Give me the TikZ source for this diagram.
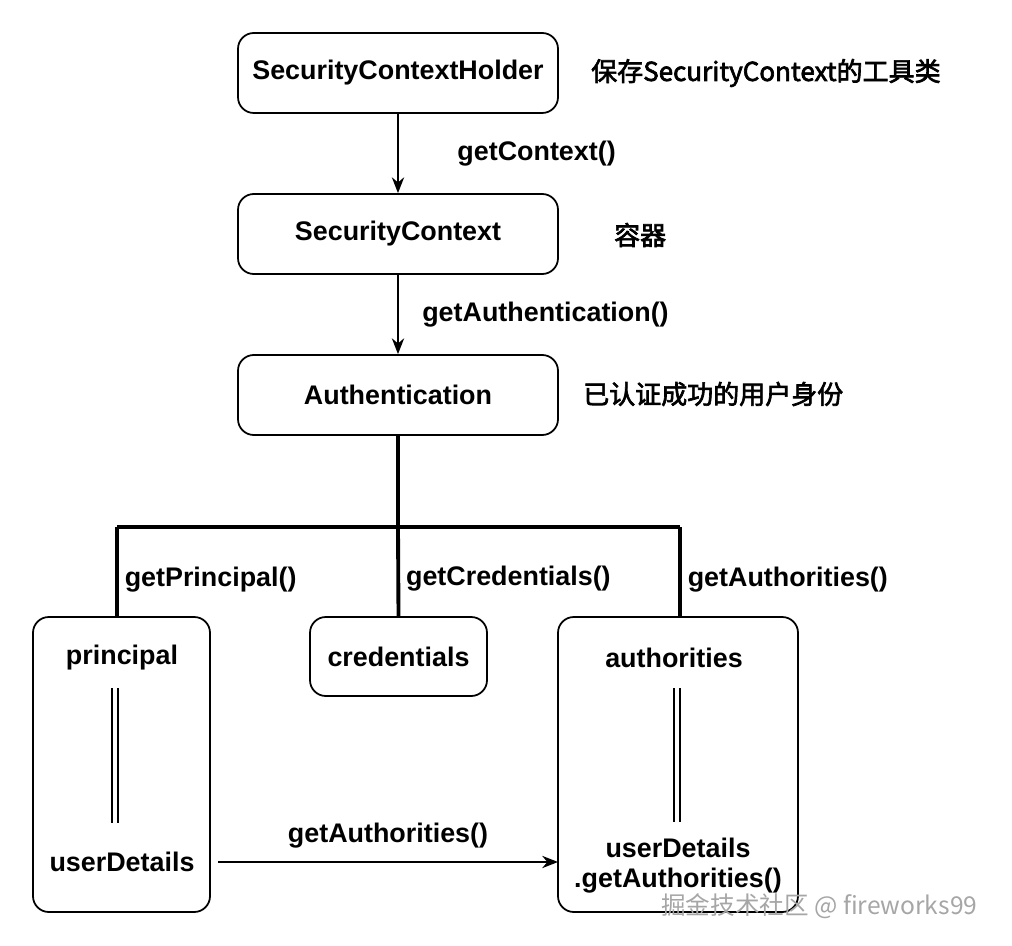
\documentclass[tikz,border=0pt]{standalone}
\usepackage{fontspec}
\usetikzlibrary{arrows.meta}
\setmainfont{Liberation Sans}
\newfontfamily\cjk{Noto Sans CJK SC}[AutoFakeBold=2.5]
\begin{document}
\begin{tikzpicture}[x=0.02cm,y=-0.02cm,
  box/.style={draw,line width=1pt,rounded corners=9pt,inner sep=0},
  t/.style={font=\fontsize{15.3}{18}\selectfont\bfseries},
  c/.style={font=\fontsize{14.8}{18}\selectfont\cjk\bfseries},
  thick2/.style={line width=2.2pt},
  >={Stealth[length=9pt,width=7pt]}]
\useasboundingbox (0,0) rectangle (1012,946);
\node[box,minimum width=320*0.02cm,minimum height=80*0.02cm,t] (sch) at (398,73) {SecurityContextHolder};
\node[box,minimum width=320*0.02cm,minimum height=80*0.02cm,t] (sc) at (398,234) {SecurityContext};
\node[box,minimum width=320*0.02cm,minimum height=80*0.02cm,t] (au) at (398,395) {Authentication};
\node[box,minimum width=177*0.02cm,minimum height=295*0.02cm] (pb) at (121.5,764.5) {};
\node[box,minimum width=177*0.02cm,minimum height=79*0.02cm,t] (cb) at (398.5,656.5) {credentials};
\node[box,minimum width=240*0.02cm,minimum height=295*0.02cm] (ab) at (678,764.5) {};
\node[t] (pr) at (122,658) {principal};
\node[t] (ud) at (122,862) {userDetails};
\node[t] (aut) at (674,658) {authorities};
\node[t] (ud2) at (678,848) {userDetails};
\node[t] (ga2) at (678,881) {.getAuthorities()};
\node[c,anchor=west] (n1) at (585,73) {保存SecurityContext的工具类};
\node[c,anchor=west] (n2) at (608,235) {容器};
\node[c,anchor=west] (n3) at (577,394) {已认证成功的用户身份};
\draw[->,line width=1pt] (sch.south) -- node[t,right=0pt,xshift=30pt]{getContext()} (sc.north);
\draw[->,line width=1pt] (sc.south) -- node[t,right=0pt,xshift=10pt]{getAuthentication()} (au.north);
\coordinate (j) at (398,527);
\coordinate (jl) at (117,527);
\coordinate (jr) at (680,527);
\draw[thick2] (au.south) -- (j);
\draw[thick2] (jl) -- (jr);
\draw[thick2] (jl) -- (117,617) node[t,pos=0.58,right=0pt]{getPrincipal()};
\draw[thick2] (j) -- (cb.north) node[t,pos=0.58,right=0pt]{getCredentials()};
\draw[thick2] (jr) -- (680,617) node[t,pos=0.58,right=0pt]{getAuthorities()};
\draw[line width=1pt] (112,688) -- (112,823) (118,688) -- (118,823);
\draw[line width=1pt] (674,688) -- (674,822) (680,688) -- (680,822);
\coordinate (s) at (218,862);
\coordinate (e) at (558,862);
\draw[->,line width=1pt] (s) -- node[t,above=4pt]{getAuthorities()} (e);
\node[font=\fontsize{14}{16}\selectfont\cjk,text=gray!70,anchor=west] (wm) at (655,906) {掘金技术社区 @ fireworks99};
\end{tikzpicture}
\end{document}
